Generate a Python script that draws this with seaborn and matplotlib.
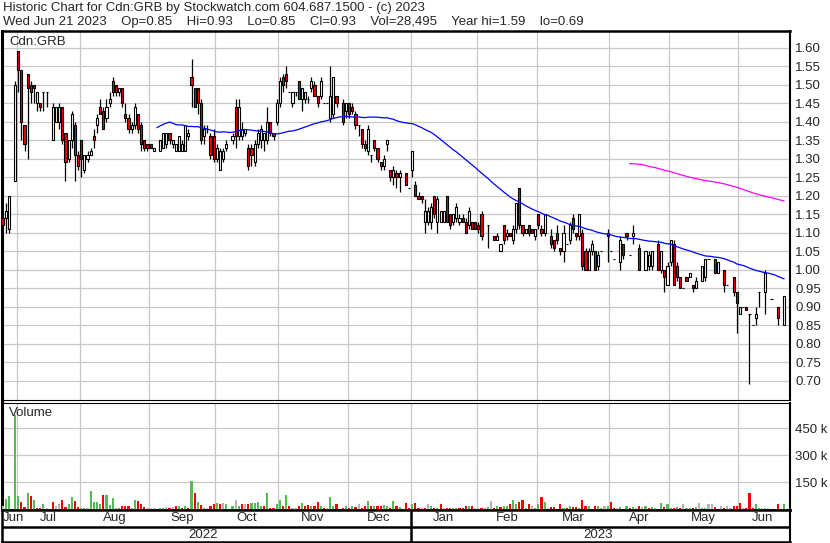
import numpy as np
import pandas as pd
import matplotlib
matplotlib.use("Agg")
import matplotlib.pyplot as plt
import seaborn as sns

nan = np.nan

HOLIDAYS = ['2022-07-01', '2022-08-01', '2022-09-05', '2022-10-10', '2022-12-26',
            '2022-12-27', '2023-01-02', '2023-02-20', '2023-04-07', '2023-05-22']

# one value per trading day, Jun 22 2022 .. Jun 21 2023 (nan = no trade)
opens = [
    nan, nan, 1.14, 1.14, 1.11, nan, 1.24,
    1.59, 1.54, 1.39, 1.53, 1.50, 1.50, 1.45, 1.45, 1.48, 1.48, nan, 1.35, 1.40, 1.40, 1.44, 1.37, 1.30, 1.35, 1.39, 1.31,
    1.35, 1.27, 1.30, 1.31, 1.36, 1.39, 1.44, 1.43, 1.41, 1.45, 1.51, 1.50, 1.48, 1.49, 1.42, 1.41, 1.38, 1.39, 1.42, 1.39, 1.35, 1.34,
    1.34, 1.32, nan, 1.32, 1.33, 1.34, 1.37, 1.34, 1.32, 1.32, 1.32, 1.32, 1.36, 1.52, 1.49, 1.49, 1.45, 1.36, 1.38, 1.36, 1.36,
    1.30, 1.27, 1.30, 1.33, nan, 1.35, 1.44, 1.36, 1.36, 1.37, 1.33, 1.33, 1.29, 1.34, 1.35, 1.35, 1.35, 1.40, 1.37, 1.40,
    1.45, 1.52, 1.53, 1.48, 1.45, 1.48, 1.51, 1.46, 1.46, 1.46, 1.49, 1.50, 1.47, 1.47, 1.45, 1.45, 1.41, 1.42, 1.47, nan, 1.45, 1.43,
    1.45, 1.44, 1.42, 1.39, 1.38, 1.34, 1.32, 1.31, 1.35, 1.33, 1.29, 1.28, 1.34, 1.27, 1.25, 1.26, 1.25, nan, 1.26, 1.22,
    1.27, 1.23, 1.20, 1.20, 1.13, 1.13, 1.13, 1.20, 1.13, 1.13, 1.13, 1.20, 1.15, 1.13, 1.14, 1.13, 1.14, 1.13, 1.12, 1.13, 1.13,
    1.12, 1.15, nan, 1.12, nan, 1.09, 1.08, 1.05, 1.12, 1.09, 1.10, 1.08, 1.11, 1.22, 1.12, 1.10, 1.12, 1.11, 1.09,
    1.15, 1.11, 1.10, nan, 1.09, 1.08, 1.10, 1.06, 1.05, 1.07, 1.08, 1.14, 1.10, 1.09, 1.10, 1.05, 1.00, 1.05, 1.05, 1.01, 1.05, nan, 1.10,
    1.05, 1.03, nan, 1.02, 1.07, 1.10, 1.04, 1.09, nan, 1.06, nan, 1.00, 1.01, 1.01, nan, 1.07, 1.00, 1.00, 0.96,
    1.02, 1.07, 1.01, 0.98, 0.95, 0.98, 0.98, 0.96, 0.95, nan, 0.97, 0.98, 1.03, nan, 1.03, 0.99, nan, 1.00, 0.96, nan, 0.98, 0.94,
    0.88, 0.90, 0.90, 0.88, 0.85, 0.87, 0.94, nan, 0.94, nan, 0.92, nan, 0.90, nan, 0.85,
]
highs = [
    nan, nan, 1.15, 1.18, 1.20, nan, 1.51,
    1.59, 1.54, 1.39, 1.53, 1.51, 1.50, 1.48, 1.45, 1.48, 1.48, nan, 1.45, 1.44, 1.45, 1.44, 1.37, 1.35, 1.43, 1.40, 1.32,
    1.35, 1.31, 1.32, 1.33, 1.38, 1.42, 1.46, 1.44, 1.46, 1.48, 1.52, 1.50, 1.49, 1.49, 1.45, 1.42, 1.40, 1.45, 1.42, 1.40, 1.35, 1.34,
    1.34, 1.33, nan, 1.35, 1.37, 1.37, 1.37, 1.35, 1.34, 1.36, 1.35, 1.39, 1.38, 1.57, 1.49, 1.49, 1.46, 1.39, 1.39, 1.37, 1.38,
    1.34, 1.33, 1.33, 1.35, nan, 1.37, 1.46, 1.46, 1.40, 1.38, 1.34, 1.34, 1.35, 1.38, 1.39, 1.37, 1.44, 1.40, 1.37, 1.46,
    1.52, 1.53, 1.55, 1.48, 1.48, 1.48, 1.51, 1.49, 1.48, 1.47, 1.52, 1.51, 1.47, 1.52, 1.45, 1.45, 1.55, 1.52, 1.47, nan, 1.46, 1.45,
    1.45, 1.45, 1.43, 1.39, 1.38, 1.35, 1.39, 1.31, 1.35, 1.33, 1.29, 1.31, 1.35, 1.27, 1.28, 1.27, 1.27, nan, 1.26, 1.22,
    1.32, 1.24, 1.21, 1.20, 1.19, 1.17, 1.18, 1.20, 1.20, 1.16, 1.16, 1.20, 1.15, 1.15, 1.18, 1.15, 1.15, 1.14, 1.17, 1.13, 1.13,
    1.13, 1.16, nan, 1.12, nan, 1.09, 1.10, 1.07, 1.12, 1.11, 1.10, 1.12, 1.18, 1.22, 1.12, 1.11, 1.12, 1.11, 1.11,
    1.15, 1.12, 1.15, nan, 1.11, 1.08, 1.12, 1.06, 1.12, 1.07, 1.13, 1.15, 1.10, 1.15, 1.11, 1.06, 1.06, 1.08, 1.05, 1.05, 1.05, nan, 1.11,
    1.05, 1.03, nan, 1.09, 1.07, 1.10, 1.04, 1.12, nan, 1.07, nan, 1.05, 1.05, 1.05, nan, 1.08, 1.05, 1.00, 1.02,
    1.08, 1.08, 1.02, 0.98, 0.95, 0.98, 0.99, 0.96, 0.98, nan, 1.01, 1.03, 1.03, nan, 1.03, 1.02, nan, 1.00, 0.96, nan, 0.98, 0.94,
    0.90, 0.90, 0.90, 0.88, 0.85, 0.90, 0.94, nan, 1.00, nan, 0.92, nan, 0.90, nan, 0.93,
]
lows = [
    nan, nan, 1.08, 1.10, 1.10, nan, 1.24,
    1.48, 1.35, 1.32, 1.30, 1.45, 1.45, 1.43, 1.43, 1.43, 1.44, nan, 1.35, 1.40, 1.38, 1.34, 1.24, 1.29, 1.33, 1.24, 1.27,
    1.25, 1.26, 1.29, 1.31, 1.33, 1.37, 1.42, 1.38, 1.40, 1.44, 1.47, 1.47, 1.47, 1.44, 1.40, 1.37, 1.37, 1.38, 1.37, 1.32, 1.32, 1.32,
    1.33, 1.32, nan, 1.32, 1.33, 1.33, 1.34, 1.33, 1.32, 1.32, 1.32, 1.32, 1.35, 1.44, 1.44, 1.42, 1.34, 1.34, 1.37, 1.30, 1.29,
    1.29, 1.27, 1.29, 1.32, nan, 1.34, 1.33, 1.35, 1.35, 1.36, 1.27, 1.28, 1.28, 1.33, 1.33, 1.32, 1.34, 1.36, 1.35, 1.39,
    1.44, 1.48, 1.49, 1.48, 1.44, 1.47, 1.46, 1.43, 1.45, 1.45, 1.48, 1.47, 1.44, 1.46, 1.45, 1.45, 1.40, 1.41, 1.44, nan, 1.39, 1.41,
    1.41, 1.42, 1.38, 1.36, 1.33, 1.32, 1.31, 1.29, 1.32, 1.29, 1.27, 1.27, 1.32, 1.24, 1.23, 1.22, 1.21, nan, 1.23, 1.22,
    1.25, 1.20, 1.19, 1.18, 1.10, 1.12, 1.11, 1.14, 1.10, 1.13, 1.13, 1.13, 1.11, 1.12, 1.13, 1.12, 1.13, 1.10, 1.11, 1.11, 1.11,
    1.10, 1.08, nan, 1.06, nan, 1.08, 1.08, 1.05, 1.07, 1.08, 1.09, 1.07, 1.10, 1.11, 1.09, 1.10, 1.09, 1.10, 1.08,
    1.11, 1.09, 1.09, nan, 1.06, 1.05, 1.07, 1.04, 1.02, 1.07, 1.07, 1.10, 1.08, 1.08, 1.00, 1.00, 1.00, 1.04, 1.00, 1.00, 1.05, nan, 1.02,
    1.05, 1.03, nan, 1.00, 1.03, 1.08, 1.04, 1.07, nan, 1.00, nan, 1.00, 1.00, 1.00, nan, 1.00, 0.99, 0.94, 0.96,
    1.01, 0.96, 0.97, 0.95, 0.95, 0.97, 0.98, 0.94, 0.95, nan, 0.97, 0.97, 1.03, nan, 0.99, 0.99, nan, 0.94, 0.96, nan, 0.93, 0.83,
    0.88, 0.90, 0.89, 0.69, 0.85, 0.85, 0.90, nan, 0.88, nan, 0.92, nan, 0.85, nan, 0.85,
]
closes = [
    nan, nan, 1.12, 1.16, 1.20, nan, 1.50,
    1.54, 1.40, 1.34, 1.49, 1.48, 1.49, 1.48, 1.44, 1.48, 1.48, nan, 1.44, 1.44, 1.44, 1.35, 1.29, 1.35, 1.42, 1.31, 1.28,
    1.30, 1.31, 1.31, 1.32, 1.35, 1.41, 1.42, 1.38, 1.44, 1.46, 1.48, 1.48, 1.49, 1.45, 1.41, 1.38, 1.39, 1.44, 1.38, 1.34, 1.33, 1.33,
    1.33, 1.33, nan, 1.35, 1.37, 1.37, 1.35, 1.35, 1.34, 1.36, 1.34, 1.39, 1.37, 1.50, 1.44, 1.45, 1.35, 1.38, 1.38, 1.31, 1.30,
    1.33, 1.32, 1.32, 1.34, nan, 1.36, 1.36, 1.44, 1.38, 1.38, 1.28, 1.31, 1.34, 1.37, 1.38, 1.37, 1.40, 1.37, 1.36, 1.45,
    1.51, 1.50, 1.51, 1.48, 1.48, 1.48, 1.46, 1.49, 1.48, 1.46, 1.51, 1.47, 1.45, 1.51, 1.45, 1.45, 1.47, 1.52, 1.45, nan, 1.40, 1.45,
    1.42, 1.43, 1.39, 1.39, 1.34, 1.33, 1.38, 1.31, 1.33, 1.30, 1.28, 1.30, 1.35, 1.25, 1.27, 1.25, 1.26, nan, 1.23, 1.22,
    1.32, 1.20, 1.19, 1.19, 1.16, 1.16, 1.17, 1.15, 1.19, 1.16, 1.16, 1.13, 1.12, 1.15, 1.17, 1.14, 1.13, 1.10, 1.16, 1.11, 1.11,
    1.11, 1.09, nan, 1.12, nan, 1.08, 1.09, 1.07, 1.08, 1.10, 1.09, 1.11, 1.18, 1.12, 1.10, 1.11, 1.10, 1.10, 1.11,
    1.12, 1.10, 1.15, nan, 1.07, 1.06, 1.08, 1.05, 1.10, 1.07, 1.12, 1.11, 1.09, 1.15, 1.01, 1.00, 1.05, 1.07, 1.00, 1.04, 1.05, nan, 1.09,
    1.05, 1.03, nan, 1.08, 1.04, 1.09, 1.04, 1.10, nan, 1.00, nan, 1.05, 1.04, 1.05, nan, 1.00, 1.05, 0.98, 1.01,
    1.08, 0.96, 0.98, 0.95, 0.95, 0.97, 0.99, 0.95, 0.97, nan, 1.01, 1.03, 1.03, nan, 0.99, 1.02, nan, 0.96, 0.96, nan, 0.94, 0.91,
    0.90, 0.90, 0.89, 0.88, 0.85, 0.88, 0.94, nan, 0.99, nan, 0.92, nan, 0.87, nan, 0.93,
]
# volume in thousands of shares
volumes = [
    0, 0, 20, 58, 76, 0, 521,
    76, 39, 13, 93, 76, 54, 7, 7, 28, 7, 0, 43, 20, 28, 54, 13, 28, 70, 48, 13,
    9, 9, 9, 104, 39, 39, 28, 80, 82, 24, 65, 7, 9, 20, 20, 20, 9, 54, 48, 33, 13, 7,
    7, 7, 0, 9, 7, 13, 9, 13, 17, 20, 7, 20, 9, 158, 89, 43, 24, 9, 9, 20, 30,
    37, 30, 37, 30, 0, 20, 54, 20, 28, 28, 33, 37, 37, 43, 17, 17, 89, 9, 7, 28,
    54, 20, 82, 17, 7, 7, 17, 37, 20, 24, 17, 17, 43, 17, 9, 7, 70, 20, 30, 0, 9, 17,
    9, 17, 13, 30, 9, 17, 48, 17, 17, 17, 17, 24, 17, 9, 48, 20, 13, 0, 37, 9,
    33, 37, 9, 7, 9, 33, 17, 7, 7, 33, 9, 9, 9, 7, 9, 7, 9, 17, 20, 17, 9,
    7, 9, 7, 13, 48, 9, 20, 13, 17, 20, 30, 54, 33, 43, 54, 7, 28, 20, 9,
    30, 70, 43, 9, 13, 13, 0, 33, 9, 9, 17, 13, 13, 7, 54, 17, 17, 0, 20, 20, 9, 17, 20,
    43, 9, 7, 13, 0, 20, 9, 13, 9, 20, 13, 20, 9, 13, 7, 0, 37, 13, 30,
    9, 9, 13, 7, 28, 9, 7, 7, 13, 37, 9, 7, 28, 30, 13, 0, 17, 9, 17, 7, 17, 17,
    37, 9, 9, 89, 9, 28, 9, 9, 9, 9, 5, 0, 28, 0, 30,
]
price_ticks = [0.70, 0.75, 0.80, 0.85, 0.90, 0.95, 1.00, 1.05, 1.10, 1.15,
               1.20, 1.25, 1.30, 1.35, 1.40, 1.45, 1.50, 1.55, 1.60]
vol_ticks = [150, 300, 450]

HEADER_1 = "Historic Chart for Cdn:GRB by Stockwatch.com 604.687.1500 - (c) 2023"
HEADER_2 = ("Wed Jun 21 2023    Op=0.85    Hi=0.93    Lo=0.85    Cl=0.93    Vol=28,495    "
            "Year hi=1.59    lo=0.69")

RED = "#f00000"
GREEN = "#55bb55"
GREY = "#b4b4b4"
GRID = "#c8c8c8"
W, H = 830, 543


def load_data():
    days = pd.bdate_range("2022-06-22", "2023-06-21")
    days = days[~days.isin(pd.to_datetime(HOLIDAYS))]
    df = pd.DataFrame({"date": days, "open": opens, "high": highs, "low": lows,
                       "close": closes, "volume": volumes})
    df["x"] = np.arange(len(df))
    filled = df["close"].ffill()
    df["ma50"] = filled.rolling(50).mean()
    df["ma200"] = filled.rolling(200).mean()
    chg = filled.diff()
    df["vcolor"] = np.where(chg > 0, GREEN, np.where(chg < 0, RED, GREY))
    df.loc[df["close"].isna(), "vcolor"] = GREY
    return df


def box(top, bottom, left=1.5, right=789.5):
    return [left / W, 1 - bottom / H, (right - left) / W, (bottom - top) / H]


def style_axes(ax, xlim, bounds):
    ax.set_xlim(*xlim)
    ax.set_xticks(bounds)
    ax.tick_params(axis="x", length=0, labelbottom=False)
    ax.tick_params(axis="y", length=0, pad=4, labelsize=9.5)
    ax.yaxis.tick_right()
    ax.grid(True, color=GRID, linewidth=0.9)
    ax.set_axisbelow(True)
    ax.set_xlabel("")
    ax.set_ylabel("")
    for side in ax.spines:
        ax.spines[side].set_color("black")


def plot_chart(df):
    fig = plt.figure(figsize=(W / 100, H / 100), dpi=100)
    xlim = (1.7, 251.7)
    months = df.groupby(df["date"].dt.to_period("M"))["x"].agg(["min", "max"])
    bounds = list(months["min"].iloc[1:] - 0.5)

    fig.text(3 / W, 1 - 8 / H, HEADER_1, fontsize=9.5, va="center")
    fig.text(3 / W, 1 - 22 / H, HEADER_2, fontsize=9.5, va="center")

    # price panel
    ax = fig.add_axes(box(31, 400))
    traded = df.dropna(subset=["open"])
    ax.vlines(traded["x"], traded["low"], traded["high"], color="black",
              linewidth=0.9, zorder=3)
    body_lo = np.minimum(traded["open"], traded["close"])
    body_h = (traded["close"] - traded["open"]).abs()
    fills = np.where(traded["close"] < traded["open"], RED, "white")
    ax.bar(traded["x"], body_h, bottom=body_lo, width=0.68, color=fills,
           edgecolor="black", linewidth=0.8, zorder=4)
    sns.lineplot(data=df, x="x", y="ma50", ax=ax, color="#0000ff", linewidth=0.9, zorder=5)
    sns.lineplot(data=df, x="x", y="ma200", ax=ax, color="#ff00ff", linewidth=0.9, zorder=5)
    ax.set_ylim(0.648, 1.645)
    ax.set_yticks(price_ticks)
    ax.set_yticklabels([f"{t:.2f}" for t in price_ticks])
    style_axes(ax, xlim, bounds)
    ax.spines["left"].set_linewidth(2.2)
    ax.spines["top"].set_linewidth(1.8)
    ax.spines["right"].set_linewidth(1.5)
    ax.spines["bottom"].set_linewidth(0.8)
    fig.text(9 / W, 1 - 42 / H, "Cdn:GRB", fontsize=9.5, va="center")

    # volume panel
    axv = fig.add_axes(box(403, 509.5))
    axv.bar(df["x"], df["volume"], width=0.68, color=df["vcolor"], linewidth=0, zorder=3)
    axv.set_ylim(0, 590)
    axv.set_yticks(vol_ticks)
    axv.set_yticklabels([f"{t} k" for t in vol_ticks])
    style_axes(axv, xlim, bounds)
    axv.spines["left"].set_linewidth(2.2)
    axv.spines["top"].set_linewidth(0.8)
    axv.spines["right"].set_linewidth(1.5)
    axv.spines["bottom"].set_linewidth(1.8)
    fig.text(9 / W, 1 - 413 / H, "Volume", fontsize=9.5, va="center")

    # month / year rows
    axd = fig.add_axes(box(510, 542))
    axd.set_xlim(*xlim)
    axd.set_ylim(0, 1)
    axd.set_xticks([])
    axd.set_yticks([])
    for side in axd.spines:
        axd.spines[side].set_color("black")
        axd.spines[side].set_linewidth(1.8)
    axd.spines["right"].set_linewidth(1.5)
    axd.axhline(0.48, color="black", linewidth=1.8)
    for per, row in months.iterrows():
        centre = (row["min"] + row["max"]) / 2
        if centre - 3 < xlim[0]:
            # first month is cut by the left edge, keep its label inside
            axd.text(xlim[0] + 0.4, 0.74, per.strftime("%b"), ha="left",
                     va="center", fontsize=9.5)
        else:
            axd.text(centre, 0.74, per.strftime("%b"), ha="center",
                     va="center", fontsize=9.5)
    years = df.groupby(df["date"].dt.year)["x"].agg(["min", "max"])
    for yr, row in years.iterrows():
        axd.text((row["min"] + row["max"]) / 2, 0.22, str(yr),
                 ha="center", va="center", fontsize=9.5)
    axd.axvline(years["min"].iloc[1] - 0.5, color="black", linewidth=1.8)

    fig.savefig("out.png", dpi=100)


if __name__ == "__main__":
    sns.set_theme(style="white")
    plt.rcParams["font.family"] = ["Liberation Sans", "DejaVu Sans"]
    df = load_data()
    plot_chart(df)
